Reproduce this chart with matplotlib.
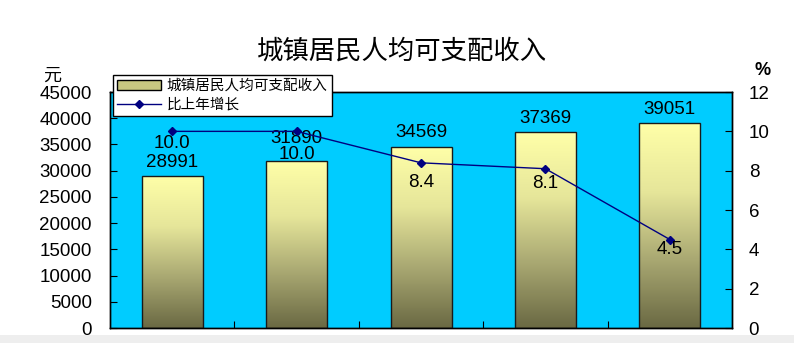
import numpy as np
import matplotlib
matplotlib.use("Agg")
import matplotlib.pyplot as plt
from matplotlib.colors import LinearSegmentedColormap
from matplotlib.patches import Patch, Rectangle
from matplotlib.lines import Line2D

plt.rcParams['font.family'] = ['Liberation Sans', 'Noto Sans CJK SC', 'DejaVu Sans']

# data
categories = ["1", "2", "3", "4", "5"]
income = [28991, 31890, 34569, 37369, 39051]
growth = [10.0, 10.0, 8.4, 8.1, 4.5]
growth_labels = ["10.0", "10.0", "8.4", "8.1", "4.5"]

title = "城镇居民人均可支配收入"
bar_name = "城镇居民人均可支配收入"
line_name = "比上年增长"

# label offsets in points (label placement, not data)
bar_label_dy = [10, 16, 10, 10, 10]
line_label_dy = [-9, -17, -14, -11, -7]

fig = plt.figure(figsize=(7.94, 3.43), dpi=100)
fig.patch.set_facecolor("white")
ax = fig.add_axes([0.1385, 0.0437, 0.7835, 0.688])
ax.set_facecolor("#00CCFF")

x = np.arange(len(categories))
bars = ax.bar(x, income, width=0.49, facecolor="none", edgecolor="#1a1a1a",
              linewidth=1.0, zorder=3)

cmap = LinearSegmentedColormap.from_list(
    "olive", ["#6a6943", "#a9a872", "#e6e69a", "#ffffa8"])
grad = np.linspace(0, 1, 256).reshape(-1, 1)
for b in bars:
    x0, w, h = b.get_x(), b.get_width(), b.get_height()
    im = ax.imshow(grad, cmap=cmap, aspect="auto", origin="lower",
                   extent=[x0, x0 + w, 0, h], zorder=2)
    im.set_clip_path(b)

ax.set_xlim(-0.5, len(categories) - 0.5)
ax.set_ylim(0, 45000)
ax.set_yticks(range(0, 45001, 5000))
ax.set_xticks(x[:-1] + 0.5)
ax.set_xticklabels([])
ax.tick_params(axis="y", direction="in", length=5, pad=13, labelsize=13.5)
ax.tick_params(axis="x", direction="in", length=5)

for xi, v, dy in zip(x, income, bar_label_dy):
    ax.annotate(str(v), (xi, v), xytext=(0, dy), textcoords="offset points",
                ha="center", va="center", fontsize=13.5, zorder=5)

ax2 = ax.twinx()
ax2.plot(x, growth, color="#000080", linewidth=1.0, marker="D",
         markersize=4, zorder=4)
ax2.set_ylim(0, 12)
ax2.set_yticks(range(0, 13, 2))
ax2.tick_params(axis="y", direction="in", length=5, pad=12, labelsize=13.5)
for xi, v, s, dy in zip(x, growth, growth_labels, line_label_dy):
    ax2.annotate(s, (xi, v), xytext=(0, dy), textcoords="offset points",
                 ha="center", va="center", fontsize=13.5, zorder=5)

for a in (ax, ax2):
    for sp in a.spines.values():
        sp.set_color("black")
        sp.set_linewidth(1.0)

fig.text(0.506, 0.851, title, ha="center", va="center", fontsize=19,
         family=["Noto Sans CJK SC", "DejaVu Sans"])
fig.text(0.066, 0.78, "元", ha="center", va="center", fontsize=13,
         family=["Noto Sans CJK SC", "DejaVu Sans"])
fig.text(0.96, 0.795, "%", ha="center", va="center", fontsize=13,
         weight="bold")

handles = [Patch(facecolor="#c8c780", edgecolor="black", linewidth=1.0),
           Line2D([], [], color="#000080", marker="D", markersize=4, linewidth=1.0)]
leg = ax2.legend(handles, [bar_name, line_name], loc="upper left",
                 bbox_to_anchor=(0.142, 0.782), bbox_transform=fig.transFigure,
                 fancybox=False, framealpha=1, edgecolor="black",
                 prop={"family": ["Noto Sans CJK SC", "DejaVu Sans"], "size": 10.5},
                 handlelength=3.0, handleheight=0.6, borderpad=0.3,
                 labelspacing=0.3, handletextpad=0.4, borderaxespad=0)
leg.get_frame().set_linewidth(1.0)
leg.set_zorder(10)

fig.patches.append(Rectangle((0, 0), 1, 0.022, transform=fig.transFigure,
                             facecolor="#eeeeee", edgecolor="none", zorder=-1))

fig.savefig("out.png", dpi=100)
